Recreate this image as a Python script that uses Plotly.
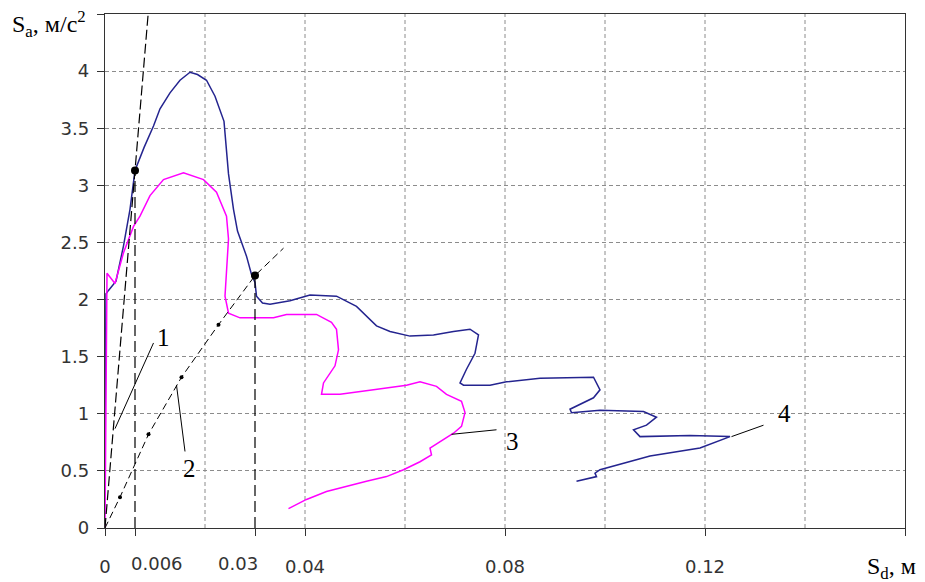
import plotly.graph_objects as go

# ---- Curve 4 (blue) ----
c4_x = [0, 0.0002, 0.0007, 0.0022, 0.0037, 0.005, 0.006, 0.0078, 0.0097, 0.011, 0.013, 0.015,
        0.017, 0.0185, 0.0203, 0.022, 0.0238, 0.0243, 0.0247, 0.0257, 0.0265, 0.0283, 0.0293,
        0.030, 0.0303, 0.0315, 0.033, 0.037, 0.041, 0.0463, 0.0503, 0.0543, 0.057, 0.061,
        0.0657, 0.0697, 0.073, 0.0747, 0.074, 0.0723, 0.071, 0.0717, 0.077, 0.0803, 0.087,
        0.0977, 0.099, 0.0977, 0.093, 0.0933, 0.099, 0.1077, 0.1103, 0.1083, 0.1057, 0.107,
        0.117, 0.125, 0.119, 0.109, 0.099, 0.098, 0.0983, 0.0943]
c4_y = [0.8, 2.05, 2.08, 2.16, 2.47, 2.79, 3.13, 3.33, 3.52, 3.67, 3.81, 3.92,
        3.99, 3.97, 3.92, 3.78, 3.56, 3.32, 3.1, 2.79, 2.6, 2.38, 2.22,
        2.15, 2.03, 1.97, 1.96, 1.99, 2.04, 2.03, 1.94, 1.77, 1.72, 1.68,
        1.69, 1.72, 1.74, 1.69, 1.53, 1.39, 1.27, 1.25, 1.25, 1.28, 1.31,
        1.32, 1.21, 1.14, 1.04, 1.01, 1.03, 1.02, 0.97, 0.90, 0.86, 0.80,
        0.81, 0.80, 0.70, 0.63, 0.51, 0.48, 0.45, 0.41]

# ---- Curve 3 (magenta) ----
c3_x = [0, 0.0004, 0.002, 0.0037, 0.0057, 0.007, 0.009, 0.0117, 0.0157, 0.0197, 0.0223,
        0.0243, 0.0247, 0.0243, 0.024, 0.0247, 0.027, 0.0337, 0.0363, 0.0423, 0.0453, 0.0463,
        0.0467, 0.046, 0.0437, 0.0433, 0.047, 0.0537, 0.0603, 0.063, 0.0663, 0.0683, 0.0713,
        0.072, 0.0713, 0.0697, 0.0663, 0.065, 0.0653, 0.063, 0.0597, 0.0563, 0.0523, 0.047,
        0.0443, 0.0403, 0.037, 0.0367]
c3_y = [0, 2.23, 2.14, 2.41, 2.64, 2.73, 2.91, 3.05, 3.11, 3.05, 2.94,
        2.73, 2.53, 2.29, 2.03, 1.88, 1.84, 1.84, 1.87, 1.87, 1.80, 1.74,
        1.56, 1.42, 1.27, 1.17, 1.17, 1.21, 1.25, 1.28, 1.24, 1.17, 1.11,
        1.01, 0.89, 0.83, 0.74, 0.70, 0.64, 0.58, 0.51, 0.45, 0.41, 0.35,
        0.32, 0.25, 0.18, 0.17]

# ---- Line 1 (steep dashed) ----
l1_x = [0, 0.00863]
l1_y = [0, 4.5]

# ---- Line 2 (dash-dot) ----
l2_x = [0, 0.003, 0.0087, 0.0153, 0.0227, 0.03, 0.0357]
l2_y = [0, 0.27, 0.82, 1.32, 1.78, 2.21, 2.45]
l2_dots_x = [0.003, 0.0087, 0.0153, 0.0227]
l2_dots_y = [0.27, 0.82, 1.32, 1.78]

# ---- Intersection points ----
pts_x = [0.006, 0.03]
pts_y = [3.13, 2.21]

# ---- Pointer segments and labels ----
ptr_x0 = [0.0097, 0.0160, 0.0783, 0.1317]
ptr_y0 = [1.62, 0.67, 0.86, 0.90]
ptr_x1 = [0.0020, 0.0143, 0.0693, 0.1253]
ptr_y1 = [0.87, 1.25, 0.82, 0.80]
lab_text = ["1", "2", "3", "4"]
lab_x = [0.0116, 0.0168, 0.0815, 0.1358]
lab_y = [1.67, 0.52, 0.76, 1.00]

# ---- Axes ----
grid_x = [0.02, 0.04, 0.06, 0.08, 0.10, 0.12, 0.14]
x_tickvals = [0, 0.04, 0.08, 0.12]
x_ticktext = ["0", "0.04", "0.08", "0.12"]
x_minor_ticks = [0.006, 0.03, 0.16]
x_extra_text = ["0.006", "0.03"]
x_extra_pos = [0.0103, 0.0266]
y_tickvals = [0, 0.5, 1, 1.5, 2, 2.5, 3, 3.5, 4]
y_ticktext = ["0", "0.5", "1", "1.5", "2", "2.5", "3", "3.5", "4"]
y_minor_ticks = [4.5]

fig = go.Figure()

# vertical grid lines
for gx in grid_x:
    fig.add_shape(type="line", xref="x", yref="y", x0=gx, x1=gx, y0=0, y1=4.5,
                  line=dict(color="#8c8c8c", width=1, dash="4px,3px"), layer="below")

fig.add_trace(go.Scatter(x=c4_x, y=c4_y, mode="lines",
                         line=dict(color="#24248f", width=1.5)))
fig.add_trace(go.Scatter(x=c3_x, y=c3_y, mode="lines",
                         line=dict(color="#ff00ff", width=1.5)))
fig.add_trace(go.Scatter(x=l1_x, y=l1_y, mode="lines",
                         line=dict(color="black", width=1.2, dash="10px,4px")))
fig.add_trace(go.Scatter(x=l2_x, y=l2_y, mode="lines",
                         line=dict(color="black", width=1, dash="7px,4px")))
fig.add_trace(go.Scatter(x=l2_dots_x, y=l2_dots_y, mode="markers",
                         marker=dict(color="black", size=4)))
for px, py in zip(pts_x, pts_y):
    fig.add_trace(go.Scatter(x=[px, px], y=[0, py], mode="lines",
                             line=dict(color="black", width=1.2, dash="11px,5px")))
fig.add_trace(go.Scatter(x=pts_x, y=pts_y, mode="markers",
                         marker=dict(color="black", size=8)))

px_ = []
py_ = []
for a, b, c, d in zip(ptr_x0, ptr_y0, ptr_x1, ptr_y1):
    px_ += [a, c, None]
    py_ += [b, d, None]
fig.add_trace(go.Scatter(x=px_, y=py_, mode="lines",
                         line=dict(color="black", width=1)))

for t, x, y in zip(lab_text, lab_x, lab_y):
    fig.add_annotation(x=x, y=y, xref="x", yref="y", text=t, showarrow=False,
                       font=dict(family="Liberation Serif", size=25, color="black"))

tick_font = dict(family="DejaVu Sans", size=18, color="#333")
for t, x in zip(x_extra_text, x_extra_pos):
    fig.add_annotation(x=x, y=-0.069, xref="x", yref="paper", text=t, showarrow=False,
                       yanchor="middle", font=tick_font)

fig.add_annotation(x=-0.119, y=0.98, xref="paper", yref="paper", xanchor="left",
                   yanchor="middle", showarrow=False,
                   text="S<sub>a</sub>, м/с<sup>2</sup>",
                   font=dict(family="Liberation Serif", size=24, color="black"))
fig.add_annotation(x=0.95, y=-0.078, xref="paper", yref="paper", xanchor="left",
                   yanchor="middle", showarrow=False,
                   text="S<sub>d</sub>, м",
                   font=dict(family="Liberation Serif", size=24, color="black"))

fig.update_layout(
    width=917, height=574,
    margin=dict(l=97, r=20, t=6, b=54),
    paper_bgcolor="white", plot_bgcolor="white",
    showlegend=False,
    xaxis=dict(range=[0, 0.16], tickmode="array", tickvals=x_tickvals, ticktext=x_ticktext,
               automargin=False,
               showgrid=False, zeroline=False, showline=True, linecolor="#333", linewidth=1.3,
               mirror=True, ticks="outside", ticklen=7, tickcolor="#333",
               minor=dict(tickmode="array", tickvals=x_minor_ticks, ticks="outside",
                          ticklen=7, tickcolor="#333", showgrid=False),
               tickfont=tick_font, ticklabelstandoff=15),
    yaxis=dict(range=[0, 4.5], tickmode="array", tickvals=y_tickvals, ticktext=y_ticktext,
               automargin=False,
               showgrid=True, gridcolor="#8c8c8c", griddash="4px,3px", gridwidth=1,
               zeroline=False, showline=True, linecolor="#333", linewidth=1.3,
               mirror=True, ticks="outside", ticklen=7, tickcolor="#333",
               minor=dict(tickmode="array", tickvals=y_minor_ticks, ticks="outside",
                          ticklen=7, tickcolor="#333", showgrid=False),
               tickfont=tick_font, ticklabelstandoff=4),
)

fig.write_html("out.html")
